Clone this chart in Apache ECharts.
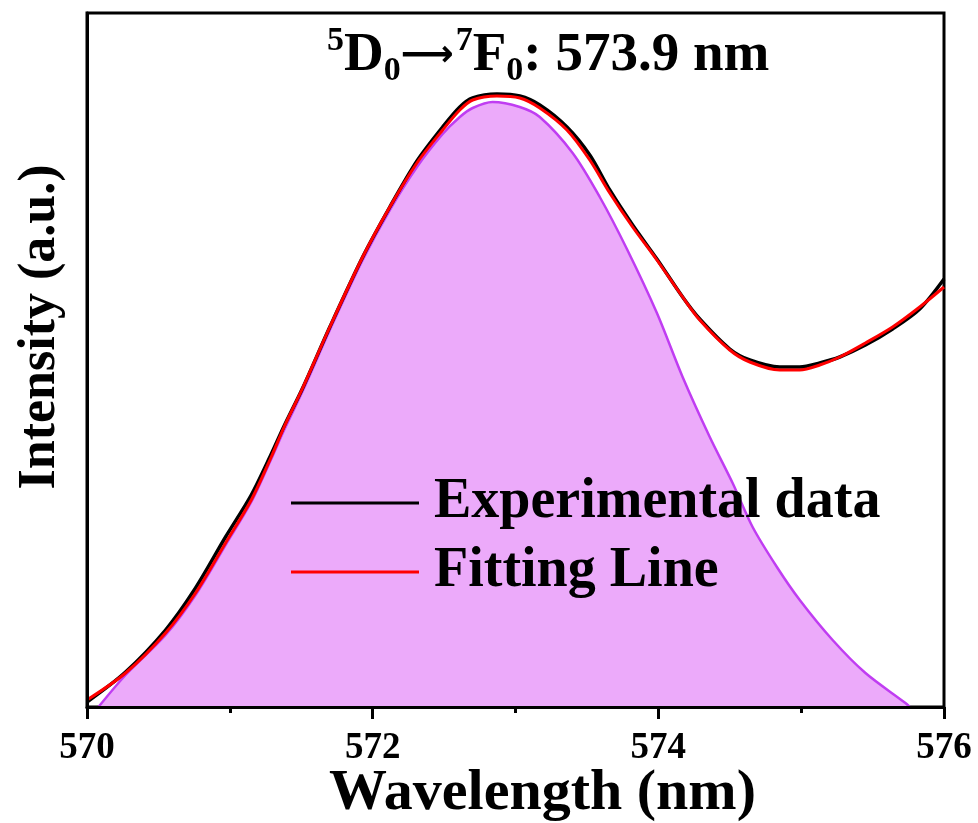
<!DOCTYPE html>
<html>
<head>
<meta charset="utf-8">
<script src="https://cdn.jsdelivr.net/npm/echarts@6/dist/echarts.min.js"></script>
<style>
html, body { margin: 0; padding: 0; background: #fff; }
#main { width: 978px; height: 823px; }
</style>
</head>
<body>
<div id="main"></div>
<script>
// wavelength (nm) for the measured spectrum and the fit
var waveFit = [570.00, 570.27, 570.55, 570.76, 570.97, 571.15, 571.29, 571.38, 571.51, 571.70,
    571.93, 572.12, 572.31, 572.49, 572.61, 572.70, 572.87, 573.03, 573.17, 573.36,
    573.52, 573.66, 573.82, 573.99, 574.17, 574.29, 574.50, 574.64, 574.85, 574.99,
    575.13, 575.27, 575.45, 575.64, 575.83, 576.00];
var expData = [5, 35, 77, 119, 170, 212, 253, 281, 319, 380,
    450, 500, 546, 580, 600, 609, 613, 611, 602, 580,
    552, 517, 482, 448, 410, 388, 358, 347, 340, 340,
    344, 350, 362, 378, 398, 428];
var fitData = [7, 34, 74, 114, 164, 207, 250, 280, 319, 380,
    450, 500, 544, 577, 597, 607, 611, 609, 599, 577,
    547, 514, 480, 447, 410, 387, 357, 345, 337, 337,
    342, 350, 364, 380, 400, 420];
// single 5D0-7F0 peak component
var waveComp = [570.08, 570.27, 570.55, 570.76, 570.97, 571.15, 571.29, 571.38, 571.51, 571.70,
    571.93, 572.12, 572.31, 572.49, 572.61, 572.70, 572.84, 573.03, 573.17, 573.40,
    573.59, 573.78, 573.99, 574.17, 574.36, 574.52, 574.66, 574.83, 574.99,
    575.22, 575.45, 575.73, 575.76];
var compData = [0, 32, 72, 112, 162, 205, 248, 277, 316, 377,
    447, 497, 540, 573, 590, 599, 605, 600, 590, 554,
    510, 458, 394, 330, 270, 224, 180, 140, 107,
    67, 34, 4, 0];

function pairs(xs, ys) {
    return xs.map(function (x, i) { return [x, ys[i]]; });
}

var font = 'Liberation Serif, Times New Roman, serif';
var chart = echarts.init(document.getElementById('main'));

var option = {
    backgroundColor: '#fff',
    animation: false,
    title: {
        left: 327,
        top: 24,
        padding: 0,
        text: '{sup|5}{main|D}{sub|0}{arrow|⟶}{sup|7}{main|F}{sub|0}{main|: 573.9 nm}',
        textStyle: {
            rich: {
                main: { fontFamily: font, fontWeight: 'bold', fontSize: 55, color: '#000', lineHeight: 64, verticalAlign: 'middle' },
                arrow: { fontFamily: 'DejaVu Sans', fontSize: 37, color: '#000', lineHeight: 64, verticalAlign: 'middle', padding: [0, 2, 0, 0] },
                sup: { fontFamily: font, fontWeight: 'bold', fontSize: 34, color: '#000', lineHeight: 34, verticalAlign: 'top' },
                sub: { fontFamily: font, fontWeight: 'bold', fontSize: 34, color: '#000', lineHeight: 20, verticalAlign: 'bottom' }
            }
        }
    },
    legend: {
        orient: 'vertical',
        left: 286,
        top: 470,
        icon: 'rect',
        itemWidth: 128,
        itemHeight: 3,
        itemGap: 13,
        data: ['Experimental data', 'Fitting Line'],
        textStyle: {
            fontFamily: font,
            fontWeight: 'bold',
            fontSize: 56,
            color: '#000',
            padding: [0, 0, 0, 10]
        }
    },
    grid: {
        left: 87,
        right: 34,
        top: 13,
        bottom: 116,
        outerBoundsMode: 'none',
        show: true,
        borderColor: '#000',
        borderWidth: 3
    },
    xAxis: {
        type: 'value',
        min: 570,
        max: 576,
        interval: 2,
        z: 10,
        name: 'Wavelength (nm)',
        nameLocation: 'middle',
        nameGap: 58,
        nameMoveOverlap: false,
        nameTextStyle: { fontFamily: font, fontWeight: 'bold', fontSize: 58, color: '#000', padding: [0, 0, 0, 54] },
        axisLine: { lineStyle: { color: '#000', width: 3 } },
        axisTick: { inside: false, length: 12, lineStyle: { color: '#000', width: 3 } },
        minorTick: { show: true, splitNumber: 2, length: 6, lineStyle: { color: '#000', width: 3 } },
        splitLine: { show: false },
        axisLabel: { fontFamily: font, fontWeight: 'bold', fontSize: 37, color: '#000', margin: 23 }
    },
    yAxis: {
        type: 'value',
        min: 0,
        max: 694,
        z: 10,
        name: 'Intensity (a.u.)',
        nameLocation: 'middle',
        nameGap: 20,
        nameMoveOverlap: false,
        nameTextStyle: { fontFamily: font, fontWeight: 'bold', fontSize: 52, color: '#000', padding: [0, 0, 0, 66] },
        axisLine: { show: true, lineStyle: { color: '#000', width: 3 } },
        axisTick: { show: false },
        axisLabel: { show: false },
        splitLine: { show: false }
    },
    series: [
        {
            name: 'Peak',
            type: 'line',
            smooth: 0.3,
            symbol: 'none',
            data: pairs(waveComp, compData),
            lineStyle: { color: '#C03DF2', width: 2.5 },
            itemStyle: { color: '#C03DF2' },
            areaStyle: { color: '#ECAAFA', opacity: 1 }
        },
        {
            name: 'Experimental data',
            type: 'line',
            smooth: 0.3,
            symbol: 'none',
            data: pairs(waveFit, expData),
            lineStyle: { color: '#000', width: 3.5 },
            itemStyle: { color: '#000' }
        },
        {
            name: 'Fitting Line',
            type: 'line',
            smooth: 0.3,
            symbol: 'none',
            data: pairs(waveFit, fitData),
            lineStyle: { color: '#F00', width: 3 },
            itemStyle: { color: '#F00' }
        }
    ]
};

chart.setOption(option);
window.addEventListener('resize', function () {
    chart.resize();
});
</script>
</body>
</html>
